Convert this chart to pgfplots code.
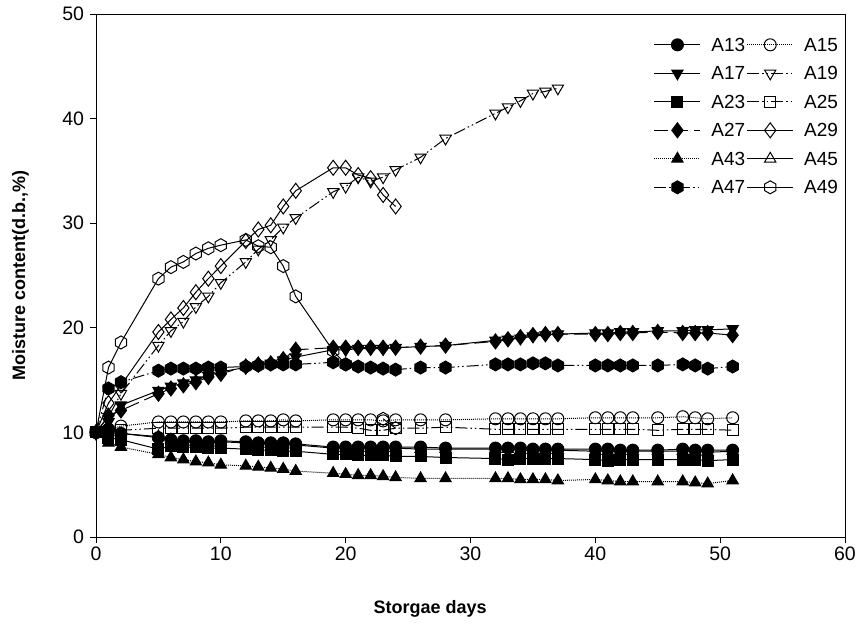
\documentclass[border=0pt]{standalone}
\usepackage{pgfplots}
\pgfplotsset{compat=1.18}
\usepackage{fontspec}
\setmainfont{Liberation Sans}
\setsansfont{Liberation Sans}
\usetikzlibrary{plotmarks}

\makeatletter
\pgfdeclareplotmark{hexagon}{%
  \pgfpathmoveto{\pgfqpoint{0pt}{\pgfplotmarksize}}%
  \pgfpathlineto{\pgfqpoint{0.866\pgfplotmarksize}{0.5\pgfplotmarksize}}%
  \pgfpathlineto{\pgfqpoint{0.866\pgfplotmarksize}{-0.5\pgfplotmarksize}}%
  \pgfpathlineto{\pgfqpoint{0pt}{-\pgfplotmarksize}}%
  \pgfpathlineto{\pgfqpoint{-0.866\pgfplotmarksize}{-0.5\pgfplotmarksize}}%
  \pgfpathlineto{\pgfqpoint{-0.866\pgfplotmarksize}{0.5\pgfplotmarksize}}%
  \pgfpathclose
  \pgfusepathqstroke}
\pgfdeclareplotmark{hexagon*}{%
  \pgfpathmoveto{\pgfqpoint{0pt}{\pgfplotmarksize}}%
  \pgfpathlineto{\pgfqpoint{0.866\pgfplotmarksize}{0.5\pgfplotmarksize}}%
  \pgfpathlineto{\pgfqpoint{0.866\pgfplotmarksize}{-0.5\pgfplotmarksize}}%
  \pgfpathlineto{\pgfqpoint{0pt}{-\pgfplotmarksize}}%
  \pgfpathlineto{\pgfqpoint{-0.866\pgfplotmarksize}{-0.5\pgfplotmarksize}}%
  \pgfpathlineto{\pgfqpoint{-0.866\pgfplotmarksize}{0.5\pgfplotmarksize}}%
  \pgfpathclose
  \pgfusepathqfillstroke}
\makeatother

\begin{document}
\begin{tikzpicture}
\path[use as bounding box] (-96pt,-95pt) rectangle (763pt,537pt);
\begin{axis}[
  at={(0pt,0pt)}, anchor=south west,
  width=749pt, height=523pt, scale only axis,
  xmin=0, xmax=60, ymin=0, ymax=50,
  xtick={0,10,...,60}, ytick={0,10,...,50},
  xtick pos=bottom, ytick pos=left,
  tick align=outside, major tick length=6pt,
  axis line style={line width=0.9pt},
  every tick/.style={line width=0.9pt, black},
  tick label style={font=\fontsize{19.5}{23}\selectfont},
  yticklabel style={xshift=-2.5pt},
  /pgf/number format/assume math mode=true,
  unbounded coords=jump,
  xlabel={Storgae days}, ylabel={Moisture content(d.b.,\%)},
  label style={font=\fontsize{18}{21}\selectfont\bfseries},
  x label style={at={(axis description cs:0.446,-0.138)}, anchor=center},
  y label style={at={(axis description cs:-0.101,0.5)}, anchor=center, rotate=0},
  legend columns=2,
  legend cell align=left,
  legend style={draw=none, fill=none, at={(axis description cs:0.997,0.962)}, anchor=north east,
    font=\fontsize{19}{22}\selectfont, row sep=11pt,
    nodes={inner sep=1.5pt, text height=13.5pt, text depth=1pt},
    /tikz/every odd column/.append style={column sep=9pt},
    /tikz/every even column/.append style={column sep=0pt}},
  legend image code/.code={\draw[mark repeat=2, mark phase=2, #1] plot coordinates {(0pt,0pt) (23pt,0pt) (46pt,0pt)};},
  every axis plot/.append style={black, line width=1pt},
]
% A13 filled circle, solid
\addplot[solid, mark=*, mark size=6pt, mark options={solid,fill=black}] coordinates {
(0,10)(1,10.3)(2,9.9)(5,9.5)(6,9.3)(7,9.2)(8,9.2)(9,9.1)(10,9.2)(12,9.1)(13,9.0)(14,9.0)(15,9.0)(16,8.9)
(19,8.6)(20,8.6)(21,8.6)(22,8.6)(23,8.6)(24,8.6)(26,8.6)(28,8.5)(32,8.5)(33,8.5)(34,8.5)(35,8.4)(36,8.4)(37,8.4)
(40,8.4)(41,8.4)(42,8.3)(43,8.3)(45,8.3)(47,8.4)(48,8.3)(49,8.3)(51,8.3)};
\addlegendentry{A13}
% A15 open circle, dotted
\addplot[densely dotted, mark=o, mark size=6pt, mark options={solid,fill=white}] coordinates {
(0,10)(1,10.3)(2,10.6)(5,11.0)(6,11.0)(7,11.0)(8,11.0)(9,11.0)(10,11.0)(12,11.1)(13,11.1)(14,11.1)(15,11.2)(16,11.1)
(19,11.2)(20,11.2)(21,11.2)(22,11.2)(23,11.1)(24,11.2)(26,11.2)(28,11.2)(32,11.3)(33,11.3)(34,11.3)(35,11.3)(36,11.3)(37,11.3)
(40,11.4)(41,11.4)(42,11.4)(43,11.4)(45,11.4)(47,11.5)(48,11.4)(49,11.3)(51,11.4)};
\addlegendentry{A15}
% A17 filled down triangle, solid
\addplot[solid, mark=triangle*, mark size=6.5pt, mark options={solid,fill=black,rotate=180}] coordinates {
(0,10)(1,11.0)(2,12.6)(5,14.0)(6,14.4)(7,14.7)(8,15.0)(9,15.4)(10,15.8)(12,16.2)(13,16.4)(14,16.6)(15,16.9)(16,17.2)
(19,17.9)(20,17.9)(21,18.0)(22,18.0)(23,18.0)(24,18.1)(26,18.2)(28,18.3)(32,18.8)(33,18.9)(34,19.0)(35,19.2)(36,19.3)(37,19.4)
(40,19.5)(41,19.5)(42,19.6)(43,19.6)(45,19.7)(47,19.7)(48,19.8)(49,19.8)(51,19.9)};
\addlegendentry{A17}
% A19 open down triangle
\addplot[dash pattern=on 12pt off 3pt on 1.5pt off 3pt on 1.5pt off 3pt, mark=triangle, mark size=6.5pt, mark options={solid,fill=white,rotate=180}] coordinates {
(0,10)(1,11.5)(2,13.7)(5,18.3)(6,19.7)(7,20.6)(8,22.0)(9,23.0)(10,24.3)(12,26.3)(13,27.5)(14,28.4)(15,29.6)(16,30.5)
(19,33.0)(20,33.5)(21,34.4)(22,34.0)(23,34.4)(24,35.1)(26,36.3)(28,38.1)(32,40.5)(33,41.1)(34,41.7)(35,42.4)(36,42.6)(37,42.9)};
\addlegendentry{A19}
% A23 filled square, solid
\addplot[solid, mark=square*, mark size=5.5pt, mark options={solid,fill=black}] coordinates {
(0,10)(1,9.5)(2,9.3)(5,8.4)(6,8.7)(7,8.6)(8,8.6)(9,8.5)(10,8.5)(12,8.4)(13,8.3)(14,8.3)(15,8.2)(16,8.2)
(19,7.9)(20,7.9)(21,7.8)(22,7.8)(23,7.8)(24,7.7)(26,7.7)(28,7.6)(32,7.5)(33,7.4)(34,7.5)(35,7.5)(36,7.5)(37,7.5)
(40,7.4)(41,7.3)(42,7.4)(43,7.4)(45,7.4)(47,7.4)(48,7.4)(49,7.3)(51,7.4)};
\addlegendentry{A23}
% A25 open square
\addplot[dash pattern=on 12pt off 3pt on 1.5pt off 3pt on 1.5pt off 3pt, mark=square, mark size=5.5pt, mark options={solid,fill=white}] coordinates {
(0,10)(1,10.0)(2,10.2)(5,10.4)(6,10.4)(7,10.4)(8,10.4)(9,10.4)(10,10.4)(12,10.5)(13,10.5)(14,10.5)(15,10.5)(16,10.5)
(19,10.5)(20,10.5)(21,10.4)(22,10.2)(23,10.2)(24,10.4)(26,10.4)(28,10.5)(32,10.3)(33,10.3)(34,10.3)(35,10.3)(36,10.3)(37,10.3)
(40,10.3)(41,10.3)(42,10.3)(43,10.3)(45,10.2)(47,10.3)(48,10.3)(49,10.3)(51,10.2)};
\addlegendentry{A25}
% A27 filled diamond
\addplot[dash pattern=on 14pt off 6pt, mark=diamond*, mark size=7.5pt, mark options={solid,fill=black}] coordinates {
(0,10)(1,11.6)(2,12.1)(5,13.7)(6,14.2)(7,14.5)(8,14.8)(9,15.3)(10,15.6)(12,16.3)(13,16.5)(14,16.6)(15,17.0)(16,17.9)
(19,18.1)(20,18.1)(21,18.1)(22,18.1)(23,18.1)(24,18.1)(26,18.2)(28,18.3)(32,18.7)(33,18.9)(34,19.1)(35,19.3)(36,19.4)(37,19.4)
(40,19.4)(41,19.4)(42,19.5)(43,19.5)(45,19.6)(47,19.5)(48,19.5)(49,19.5)(51,19.3)};
\addlegendentry{A27}
% A29 open diamond, solid
\addplot[solid, mark=diamond, mark size=7.5pt, mark options={solid,fill=white}] coordinates {
(0,10)(1,12.8)(2,14.5)(5,19.6)(6,20.8)(7,21.9)(8,23.4)(9,24.7)(10,25.9)(12,28.3)(13,29.4)(14,29.8)(15,31.6)(16,33.1)
(19,35.3)(20,35.3)(21,34.6)(22,34.3)(23,32.7)(24,31.6)};
\addlegendentry{A29}
% A43 filled triangle, dotted
\addplot[densely dotted, mark=triangle*, mark size=6.5pt, mark options={solid,fill=black}] coordinates {
(0,10)(1,9.0)(2,8.6)(5,7.9)(6,7.6)(7,7.4)(8,7.2)(9,7.1)(10,6.9)(12,6.8)(13,6.7)(14,6.6)(15,6.5)(16,6.3)
(19,6.1)(20,6.0)(21,5.9)(22,5.9)(23,5.8)(24,5.7)(26,5.6)(28,5.6)(32,5.6)(33,5.6)(34,5.5)(35,5.5)(36,5.5)(37,5.4)
(40,5.5)(41,5.4)(42,5.3)(43,5.3)(45,5.3)(47,5.3)(48,5.2)(49,5.1)(51,5.4)};
\addlegendentry{A43}
% A45 open triangle, solid
\addplot[solid, mark=triangle, mark size=6.5pt, mark options={solid,fill=white}] coordinates {
(0,10)(1,10.0)(2,9.9)(5,9.6)(6,9.3)(7,9.1)(8,9.1)(9,9.0)(10,9.1)(12,9.0)(13,8.9)(14,8.9)(15,8.9)(16,8.8)
(19,8.5)(20,8.5)(21,8.5)(22,8.5)(23,8.5)(24,8.5)(26,8.4)(28,8.4)(32,8.4)(33,8.4)(34,8.3)(35,8.3)(36,8.3)(37,8.3)
(40,8.2)(41,8.2)(42,8.2)(43,8.2)(45,8.2)(47,8.2)(48,8.2)(49,8.1)(51,8.2)};
\addlegendentry{A45}
% A47 filled hexagon
\addplot[dash pattern=on 12pt off 3pt on 1.5pt off 3pt on 1.5pt off 3pt, mark=hexagon*, mark size=6.5pt, mark options={solid,fill=black}] coordinates {
(0,10)(1,14.2)(2,14.8)(5,15.9)(6,16.1)(7,16.1)(8,16.1)(9,16.2)(10,16.2)(12,16.3)(13,16.4)(14,16.5)(15,16.5)(16,16.5)
(19,16.7)(20,16.5)(21,16.3)(22,16.2)(23,16.1)(24,16.0)(26,16.2)(28,16.2)(32,16.5)(33,16.5)(34,16.5)(35,16.6)(36,16.6)(37,16.4)
(40,16.4)(41,16.4)(42,16.4)(43,16.4)(45,16.4)(47,16.5)(48,16.4)(49,16.1)(51,16.3)};
\addlegendentry{A47}
% A49 open hexagon, solid
\addplot[solid, mark=hexagon, mark size=6.5pt, mark options={solid,fill=white}] coordinates {
(0,10)(1,16.2)(2,18.6)(5,24.7)(6,25.8)(7,26.3)(8,27.1)(9,27.6)(10,27.9)(12,28.4)(13,27.8)(14,27.7)(15,25.9)(16,23.0)
(19,17.8)(20,16.5)(21.5,nan)(23,11.3)(24,10.4)};
\addlegendentry{A49}
\end{axis}
\end{tikzpicture}
\end{document}
